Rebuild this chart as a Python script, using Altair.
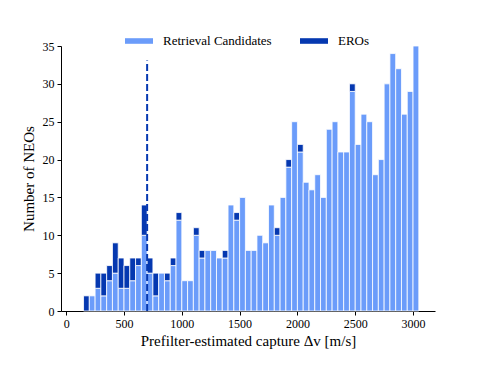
import altair as alt
import pandas as pd

bin_start = [150 + 50 * k for k in range(58)]
retrieval = [0, 2, 3, 2, 4, 5, 3, 3, 4, 6, 10, 5, 2, 5, 4, 6, 12, 4, 4, 10,
             7, 8, 8, 7, 7, 14, 12, 15, 8, 8, 10, 9, 14, 10, 15, 19, 25, 21, 17, 16,
             18, 15, 24, 25, 21, 21, 29, 22, 26, 25, 18, 20, 30, 34, 32, 26, 29, 35]
eros = [2, 0, 2, 3, 2, 4, 4, 3, 3, 1, 4, 2, 3, 0, 1, 1, 1, 0, 0, 1,
        1, 0, 0, 0, 1, 0, 1, 0, 0, 0, 0, 0, 0, 1, 0, 1, 0, 1, 0, 0,
        0, 0, 0, 0, 0, 0, 1, 0, 0, 0, 0, 0, 0, 0, 0, 0, 0, 0]
bin_width = 50
cutoff_dv = [700]
cutoff_top = [33.1]
x_ticks = [0, 500, 1000, 1500, 2000, 2500, 3000]
y_ticks = [0, 5, 10, 15, 20, 25, 30, 35]

series_names = ["Retrieval Candidates", "EROs"]
colors = ["#6b9cfa", "#0538b0"]

rows = []
for s, r, e in zip(bin_start, retrieval, eros):
    if r > 0:
        rows.append({"x": s, "x2": s + bin_width, "lo": 0, "hi": r, "series": series_names[0]})
    if e > 0:
        rows.append({"x": s, "x2": s + bin_width, "lo": r, "hi": r + e, "series": series_names[1]})
df = pd.DataFrame(rows)

font = "Liberation Serif"

xscale = alt.Scale(domain=[-45, 3190], nice=False, zero=False)
yscale = alt.Scale(domain=[0, 35], nice=False)

xaxis = alt.Axis(values=x_ticks, format="d", labelOverlap=False, labelFont=font,
                 title="Prefilter-estimated capture Δv [m/s]")
yaxis = alt.Axis(values=y_ticks, format="d", labelOverlap=False, labelFont=font,
                 title="Number of NEOs")

bars = alt.Chart(df).mark_bar(stroke="white", strokeWidth=0.8, opacity=1).encode(
    x=alt.X("x:Q", scale=xscale, axis=xaxis),
    x2="x2:Q",
    y=alt.Y("lo:Q", scale=yscale, axis=yaxis),
    y2="hi:Q",
    color=alt.Color("series:N",
                    scale=alt.Scale(domain=series_names, range=colors),
                    legend=alt.Legend(
                        title=None, orient="none", direction="horizontal",
                        legendX=64, legendY=-19,
                        symbolType="M-1,-0.2L1,-0.2L1,0.2L-1,0.2Z",
                        symbolSize=784, symbolStrokeWidth=0,
                        labelFont=font, labelFontSize=13, labelColor="black",
                        labelOffset=10, columnPadding=28, padding=0,
                    )),
)

line_df = pd.DataFrame({"dv": cutoff_dv, "top": cutoff_top, "bottom": [0]})
rule = alt.Chart(line_df).mark_rule(color="#0538b0", strokeDash=[7, 3], strokeWidth=2).encode(
    x=alt.X("dv:Q", scale=xscale, axis=xaxis),
    y=alt.Y("bottom:Q", scale=yscale, axis=yaxis),
    y2="top:Q",
)

chart = (bars + rule).properties(
    width=374, height=265,
    autosize=alt.AutoSizeParams(type="none"),
    padding={"left": 53, "top": 38, "right": 41, "bottom": 69},
).configure(font=font).configure_view(stroke=None).configure_axis(
    grid=False, domainColor="black", tickColor="black", tickSize=4,
    labelFont=font, labelFontSize=12, labelColor="black",
    titleFont=font, titleFontSize=15, titleFontWeight="normal", titleColor="black",
    labelPadding=3,
).configure_axisX(titlePadding=4).configure_axisY(titlePadding=6)

chart.save("out.html", embed_options={"renderer": "svg", "actions": False})
